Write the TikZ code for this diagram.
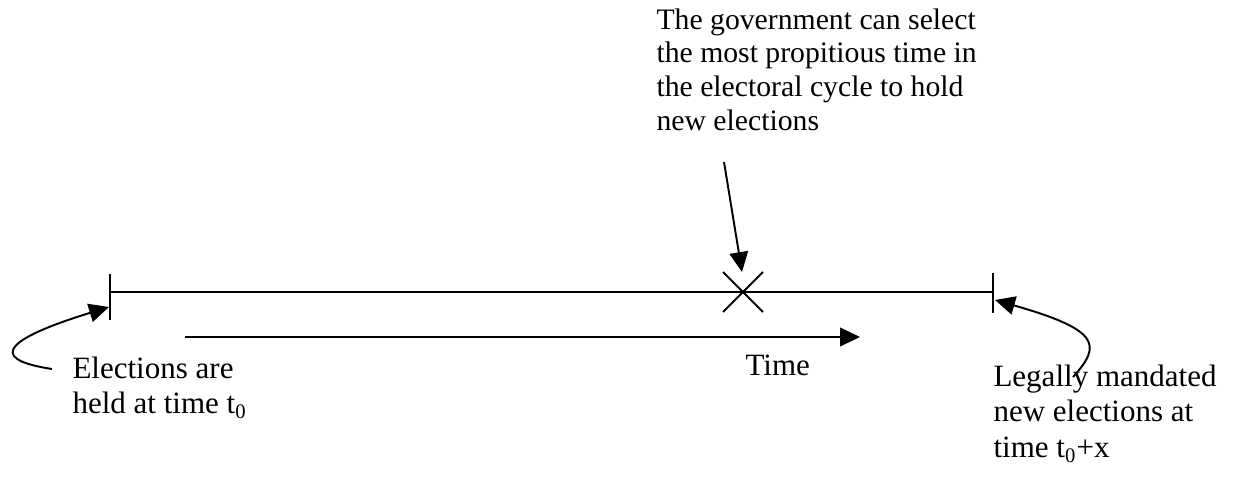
\documentclass[tikz,border=0pt]{standalone}
\usepackage{fontspec}
\setmainfont{Liberation Serif}
\usetikzlibrary{arrows.meta}
\begin{document}
\begin{tikzpicture}[x=0.387pt,y=-0.387pt,
  ln/.style={line width=0.75pt,black},
  arr/.style={ln,-{Triangle[length=7.7pt,width=7.2pt]}},
  lbl/.style={anchor=north west,inner sep=0pt,align=left,font=\fontsize{12pt}{13.9pt}\selectfont}]
\useasboundingbox (0,0) rectangle (1240,480);
% timeline
\coordinate (L) at (110,292);
\coordinate (R) at (993,292);
\coordinate (Lt) at (110,274);
\coordinate (Lb) at (110,320);
\coordinate (Rt) at (993,273);
\coordinate (Rb) at (993,313);
\draw[ln] (L) -- (R);
\draw[ln] (Lt) -- (Lb);
\draw[ln] (Rt) -- (Rb);
% X mark
\coordinate (X) at (743,292);
\draw[ln] (723,272) -- (763,312);
\draw[ln] (723,312) -- (763,272);
% time arrow
\coordinate (T0) at (185,337);
\coordinate (T1) at (860,337);
\draw[arr] (T0) -- (T1);
% texts
\node[lbl,font=\fontsize{11.5pt}{13.1pt}\selectfont] (gov) at (656,8) {The government can select\\the most propitious time in\\the electoral cycle to hold\\new elections};
\node[lbl] (el) at (72,356) {Elections are\\held at time t\textsubscript{0}};
\node[lbl] (time) at (745,354) {Time};
\node[lbl] (leg) at (993,364) {Legally mandated\\new elections at\\time t\textsubscript{0}+x};
% connectors
\coordinate (gs) at (724,162);
\draw[arr] (gs) -- (742,272);
\coordinate (es) at (52,369);
\draw[arr] (es) .. controls (-20,358) and (15,336) .. (109,307);
\coordinate (ls) at (1073,377);
\draw[arr] (ls) .. controls (1102,345) and (1100,330) .. (995,300);
\end{tikzpicture}
\end{document}
